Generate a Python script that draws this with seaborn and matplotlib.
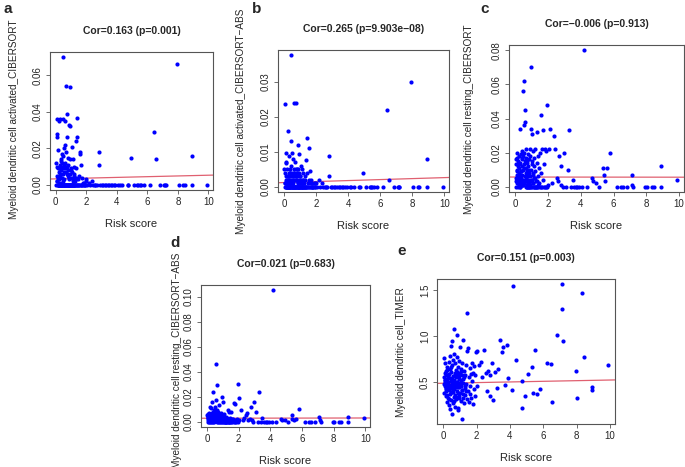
import matplotlib
matplotlib.use("Agg")
import matplotlib.pyplot as plt
import seaborn as sns
import pandas as pd

sns.set_style("white")
plt.rcParams["font.family"] = ["Liberation Sans", "DejaVu Sans"]

# ---------------- data ----------------
risk_low = [0.02,0.04,0.05,0.06,0.08,0.10,0.11,0.12,0.14,0.15,
            0.17,0.18,0.20,0.21,0.22,0.24,0.25,0.27,0.28,0.30,
            0.31,0.32,0.34,0.35,0.36,0.38,0.39,0.40,0.41,0.42,
            0.44,0.45,0.46,0.47,0.48,0.50,0.51,0.52,0.53,0.55,
            0.56,0.57,0.58,0.60,0.61,0.62,0.63,0.65,0.66,0.67,
            0.68,0.70,0.71,0.72,0.74,0.75,0.76,0.78,0.79,0.80,
            0.82,0.83,0.85,0.86,0.88,0.89,0.90,0.92,0.93,0.95,
            0.96,0.98,1.00,1.02,1.04,1.05,1.07,1.09,1.10,1.12,
            1.14,1.15,1.17,1.19,1.20,1.22,1.25,1.27,1.30,1.32,
            1.35,1.37,1.40,1.42,1.45,1.48,1.50,1.53,1.55,1.58,
            1.60,1.63,1.65,1.68,1.70,1.73,1.76,1.80,1.83,1.86,
            1.90,1.93,1.96,2.00,0.09,0.13,0.19,0.23,0.26,0.29,
            0.33,0.37,0.43,0.49,0.54,0.59,0.64,0.69,0.73,0.77,
            0.81,0.84,0.87,0.91,0.94,0.97,1.01,1.06,1.11,1.16,
            1.21,1.28,1.33,1.38,0.07,0.16,0.26,0.36,0.46,0.56]
risk_high = [2.05,2.15,2.25,2.35,2.45,2.55,2.6,2.7,2.8,2.82,
             2.9,3.0,3.1,3.2,3.3,3.4,3.5,3.6,3.7,3.8,
             3.9,4.1,4.2,4.35,4.7,4.72,4.9,5.1,5.35,5.4,
             5.5,5.6,5.8,6.2,6.45,6.55,6.85,7.1,7.15,7.2,
             7.95,8.05,8.35,8.45,8.9,8.92,9.9]

act_cib_low = [0.012,0,0.036,0.002,0.010,0.028,0.026,0,0.009,0,
               0.004,0,0.035,0,0.007,0,0.011,0,0.005,0.036,
               0,0.010,0.014,0,0.008,0,0.012,0,0.017,0,
               0.006,0.070,0.036,0,0.009,0.016,0,0.011,0,0.020,
               0.003,0,0.009,0.035,0.022,0,0.012,0.054,0,0.007,
               0,0.018,0,0.010,0.039,0.026,0,0.005,0,0.015,
               0,0.008,0,0.004,0,0.033,0.0535,0.032,0,0.014,
               0,0.009,0,0.004,0.021,0,0.007,0,0.014,0,
               0.003,0,0.010,0,0.005,0,0.002,0,0.004,0,
               0.024,0,0.0365,0.026,0,0.003,0,0.005,0,0.018,
               0.017,0,0.011,0,0.004,0,0.001,0,0,0.001,
               0,0,0.002,0.003,0.005,0.019,0.003,0.009,0,0.006,
               0,0.013,0.004,0,0.007,0,0.010,0,0.006,0,
               0.011,0,0.003,0,0.006,0,0.008,0,0.002,0,
               0.006,0,0.009,0,0.002,0,0.001,0,0.002,0]
act_cib_high = [0,0.001,0,0.002,0,0,0,0,0.018,0.011,
                0,0,0,0,0,0,0,0,0,0,
                0,0,0,0,0,0,0.015,0,0,0,
                0,0,0,0,0.029,0.014,0,0,0,0,
                0.066,0,0,0,0.016,0,0]

act_abs_low = [0.005,0,0.0235,0.001,0.004,0.0095,0.007,0,0.003,0,
               0.002,0,0.005,0,0.003,0,0.016,0,0.002,0.004,
               0,0.0088,0.005,0,0.003,0,0.004,0,0.006,0,
               0.002,0.0375,0.013,0,0.003,0.0095,0,0.004,0,0.0078,
               0.001,0,0.003,0.005,0.002,0,0.004,0.024,0,0.007,
               0,0.003,0,0.005,0.002,0.024,0,0.002,0,0.004,
               0,0.003,0,0.001,0,0.005,0.0118,0.004,0,0.0093,
               0,0.003,0,0.001,0.006,0,0.002,0,0.005,0,
               0.001,0,0.004,0,0.002,0,0.001,0,0.002,0,
               0.0075,0,0.014,0.004,0,0.001,0,0.002,0,0.011,
               0.0045,0,0.002,0,0.001,0,0,0,0,0.001,
               0,0,0.001,0.001,0.002,0.0068,0.001,0.003,0,0.002,
               0,0.004,0.001,0,0.003,0,0.004,0,0.002,0,
               0.005,0,0.001,0,0.002,0,0.003,0,0.001,0,
               0.002,0,0.003,0,0.001,0,0.001,0,0.001,0]
act_abs_high = [0,0.002,0,0.001,0,0,0,0,0.0087,0.003,
                0,0,0,0,0,0,0,0,0,0,
                0,0,0,0,0,0,0.004,0,0,0,
                0,0,0,0,0.022,0.002,0,0,0,0,
                0.030,0,0,0,0.008,0,0]

rest_cib_low = [0.016,0.003,0.013,0,0.009,0.017,0.002,0.010,0,0.015,
                0.004,0.012,0.001,0.008,0.018,0.003,0.011,0,0.006,0.034,
                0.002,0.014,0.005,0.019,0.001,0.009,0.016,0.003,0.021,0.007,
                0.012,0.056,0.004,0.018,0.001,0.010,0.020,0.002,0.013,0.062,
                0.036,0.006,0.015,0.045,0.038,0.003,0.011,0,0.017,0.005,
                0.022,0.001,0.009,0.014,0,0.004,0.019,0.007,0,0.012,
                0.002,0.016,0,0.008,0.022,0.003,0.006,0.018,0,0.070,
                0.034,0.010,0.031,0.004,0.015,0,0.007,0.021,0.002,0.012,
                0,0.005,0.017,0,0.022,0.009,0,0.003,0.032,0.014,
                0,0.006,0.018,0,0.011,0.002,0,0.020,0.042,0,
                0.008,0.022,0,0.004,0.033,0,0.013,0,0.022,0,
                0.021,0,0.048,0.001,0.007,0.020,0.005,0.002,0.013,0,
                0.009,0.004,0.017,0.001,0.011,0.003,0.008,0,0.015,0.002,
                0.006,0,0.010,0.001,0.004,0,0.013,0.002,0.008,0,
                0.005,0,0.003,0.001,0.005,0.002,0.004,0.001,0.003,0.002]
rest_cib_high = [0.022,0.034,0.002,0.030,0.022,0.005,0.003,0.018,0.012,0.001,
                 0,0.020,0,0.010,0.033,0,0.004,0,0,0,
                 0,0,0.080,0,0.005,0.003,0.002,0,0.011,0.007,
                 0.003,0.011,0.020,0,0,0,0,0.007,0.001,0,
                 0,0,0,0,0.012,0,0.004]

rest_abs_low = [0.005,0.001,0.003,0,0.006,0.002,0.004,0,0.007,0.001,
                0.003,0,0.012,0.002,0.005,0,0.011,0.001,0.004,0.016,
                0,0.006,0.002,0.008,0,0.003,0.005,0.024,0.001,0.007,
                0.002,0.009,0.004,0,0.006,0.012,0.001,0.003,0.008,0.046,
                0.017,0.002,0.005,0.029,0,0.004,0.009,0.001,0.006,0.002,
                0,0.005,0.003,0.008,0.001,0.013,0,0.004,0.002,0.006,
                0,0.003,0.001,0.005,0,0.002,0.007,0.001,0,0.020,
                0.003,0.005,0.016,0,0.002,0.004,0,0.001,0.006,0,
                0.003,0.001,0,0.004,0.002,0,0.001,0.003,0.009,0,
                0.002,0,0.008,0.001,0,0.003,0.008,0,0.001,0.002,
                0,0.001,0.002,0,0.015,0.001,0,0.014,0.001,0,
                0.002,0,0.030,0.001,0.004,0.006,0.003,0.005,0.002,0.007,
                0.003,0.006,0.004,0.002,0.005,0.003,0.007,0.002,0.004,0.001,
                0.005,0.002,0.003,0.001,0.004,0.002,0.003,0.001,0.002,0,
                0.001,0,0.002,0,0.003,0.001,0.002,0.004,0.001,0.003]
rest_abs_high = [0.019,0.009,0.001,0.003,0.005,0.007,0.001,0.002,0.012,0.001,
                 0,0.016,0.008,0,0.024,0,0.003,0,0,0,
                 0,0,0.105,0,0.002,0.001,0.001,0,0.005,0.002,
                 0.001,0.002,0.010,0,0,0,0,0.004,0.001,0,
                 0,0,0,0,0.004,0,0.003]

timer_low = [0.76,0.48,0.55,0.38,0.60,0.45,0.70,0.52,0.42,0.58,
             0.35,0.62,0.47,0.28,0.53,0.66,0.44,0.57,0.33,0.50,
             0.72,0.41,0.59,0.25,0.46,0.64,0.37,0.20,0.54,0.78,
             0.43,0.89,0.51,0.30,0.61,0.94,0.15,0.48,0.68,0.39,
             0.56,0.27,0.74,0.45,1.07,0.52,0.34,0.80,0.42,0.60,
             0.23,0.49,0.71,0.36,0.55,0.44,0.63,0.31,0.77,0.50,
             0.40,0.58,1.01,0.19,0.47,0.66,0.22,0.53,0.35,0.73,
             0.44,0.60,0.88,0.38,0.52,0.29,0.64,0.46,0.10,0.57,
             0.41,0.70,0.33,0.49,0.95,0.55,0.27,0.62,0.43,0.36,
             0.68,0.48,0.31,0.84,1.25,0.40,0.87,0.55,0.28,0.65,
             0.45,0.37,0.59,0.33,0.51,0.70,0.26,0.60,0.42,0.67,
             0.35,0.57,0.83,0.46,0.52,0.40,0.63,0.36,0.48,0.57,
             0.31,0.45,0.66,0.39,0.53,0.42,0.29,0.58,0.47,0.34,
             0.61,0.50,0.38,0.44,0.56,0.32,0.49,0.62,0.41,0.53,
             0.37,0.46,0.58,0.40,0.50,0.43,0.54,0.47,0.39,0.51]
timer_high = [0.84,0.68,0.72,0.55,0.85,0.60,0.40,0.62,0.58,0.35,
              0.71,0.30,0.61,0.43,0.64,0.95,0.83,0.88,0.47,0.90,
              0.54,0.41,1.54,0.74,0.51,0.22,0.35,0.59,0.66,0.38,
              0.85,0.37,0.42,0.70,0.69,0.28,1.01,1.56,1.29,0.94,
              0.62,0.33,1.47,0.77,0.44,0.41,0.68]

# fitted regression lines (intercept, slope)
fit_intercept = [0.0033, 0.0012, 0.0056, 0.0028, 0.485]
fit_slope = [0.0002, 0.00014, -0.00001, 0.00002, 0.0035]

df = pd.DataFrame({
    "risk": risk_low + risk_high,
    "a": act_cib_low + act_cib_high,
    "b": act_abs_low + act_abs_high,
    "c": rest_cib_low + rest_cib_high,
    "d": rest_abs_low + rest_abs_high,
    "e": timer_low + timer_high,
})

panel_letters = ["a", "b", "c", "d", "e"]
titles = ["Cor=0.163 (p=0.001)", "Cor=0.265 (p=9.903e\u221208)",
          "Cor=\u22120.006 (p=0.913)", "Cor=0.021 (p=0.683)",
          "Cor=0.151 (p=0.003)"]
ylabels = ["Myeloid dendritic cell activated_CIBERSORT",
           "Myeloid dendritic cell activated_CIBERSORT\u2212ABS",
           "Myeloid dendritic cell resting_CIBERSORT",
           "Myeloid dendritic cell resting_CIBERSORT\u2212ABS",
           "Myeloid dendritic cell_TIMER"]
yticks = [[0.00, 0.02, 0.04, 0.06], [0.00, 0.01, 0.02, 0.03],
          [0.00, 0.02, 0.04, 0.06, 0.08], [0.00, 0.02, 0.04, 0.06, 0.08, 0.10],
          [0.5, 1.0, 1.5]]
ytick_fmt = ["{:.2f}", "{:.2f}", "{:.2f}", "{:.2f}", "{:.1f}"]
ylims = [(-0.0028, 0.0728), (-0.0015, 0.039), (-0.0032, 0.0832),
         (-0.0042, 0.1092), (0.042, 1.618)]
xticks = [0, 2, 4, 6, 8, 10]
XLIM = (-0.38, 10.3)

# ---------------- layout ----------------
W, H = 685, 467
fig = plt.figure(figsize=(W / 100, H / 100), dpi=100)
# pixel boxes: left, right, top, bottom
boxes = [(50, 213, 52, 190), (278, 449, 50, 192), (509, 684, 45, 192),
         (201, 370, 285, 427), (437, 615, 279, 424)]
letter_pos = [(3, 9), (252, 9), (480, 9), (170, 243), (397, 251)]
ylabel_x = [14, 241, 469, 177, 401]
ylabel_y = [119, 121, 119, 360, 352]

for i, key in enumerate(panel_letters):
    l, r, t, b = boxes[i]
    ax = fig.add_axes([l / W, 1 - b / H, (r - l) / W, (b - t) / H])
    sns.scatterplot(data=df, x="risk", y=key, ax=ax, s=9, color="#0000ff",
                    linewidth=0, alpha=1, legend=False, zorder=3)
    line_x = list(XLIM)
    line_y = [fit_intercept[i] + fit_slope[i] * v for v in line_x]
    ax.plot(line_x, line_y, color="#e06070", lw=0.9, zorder=2)
    ax.set_xlim(*XLIM)
    ax.set_ylim(*ylims[i])
    ax.set_xticks(xticks)
    ax.set_xticklabels([str(v) for v in xticks], fontsize=7)
    ax.set_yticks(yticks[i])
    ax.set_yticklabels([ytick_fmt[i].format(v) for v in yticks[i]],
                       fontsize=7, rotation=90, va="center")
    ax.tick_params(axis="both", direction="out", length=3, width=0.6,
                   color="#555555", pad=2, bottom=True, left=True)
    for s in ax.spines.values():
        s.set_color("#555555")
        s.set_linewidth(0.8)
    ax.set_title(titles[i], fontsize=7.5, fontweight="bold", pad=13)
    ax.set_xlabel("Risk score", fontsize=8, labelpad=9)
    ax.set_ylabel("")
    fig.text(ylabel_x[i] / W, 1 - ylabel_y[i] / H, ylabels[i],
             rotation=90, ha="center", va="center", fontsize=7.2)
    lx, ly = letter_pos[i]
    fig.text(lx / W, 1 - ly / H, key, fontsize=11, fontweight="bold",
             ha="left", va="center")

fig.savefig("out.png", dpi=100)
